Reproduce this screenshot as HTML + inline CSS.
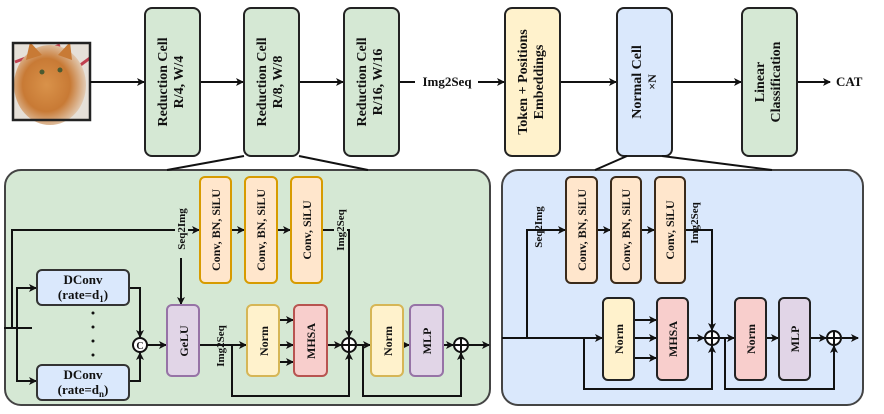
<!DOCTYPE html>
<html><head><meta charset="utf-8"><style>
html,body{margin:0;padding:0;background:#fff;}
svg{display:block;}
text{font-family:"Liberation Serif",serif;font-weight:bold;fill:#111;}
</style></head><body>
<svg width="884" height="414" viewBox="0 0 884 414" xmlns="http://www.w3.org/2000/svg">
<defs>
<marker id="a" markerWidth="8" markerHeight="8" refX="7" refY="4" orient="auto" markerUnits="userSpaceOnUse">
<path d="M0,0 L8,4 L0,8 L2,4 z" fill="#111"/></marker>
<radialGradient id="cat" cx="45%" cy="50%" r="60%">
<stop offset="0" stop-color="#d9924a"/><stop offset="0.55" stop-color="#c87a35"/><stop offset="1" stop-color="#e8ddd0"/></radialGradient>
</defs>
<g stroke="#111" stroke-width="2" fill="none">
<!-- top row -->
<rect x="13" y="43" width="77" height="77" fill="#e6e0d8" stroke="none"/>
<line x1="15" y1="62" x2="60" y2="45" stroke="#c04050" stroke-width="3"/>
<line x1="60" y1="80" x2="90" y2="58" stroke="#c04050" stroke-width="3"/>
<ellipse cx="50" cy="85" rx="36" ry="40" fill="url(#cat)" stroke="none"/>
<path d="M26,60 L30,42 L42,55 Z M58,55 L70,42 L72,60 Z" fill="#c87a35" stroke="none"/>
<circle cx="42" cy="72" r="2.5" fill="#4a5a30" stroke="none"/><circle cx="60" cy="70" r="2.5" fill="#4a5a30" stroke="none"/>
<rect x="13" y="43" width="77" height="77" stroke="#222" stroke-width="2.5"/>
<line x1="90" y1="82" x2="144" y2="82" marker-end="url(#a)"/>
<line x1="200" y1="82" x2="243" y2="82" marker-end="url(#a)"/>
<line x1="299" y1="82" x2="343" y2="82" marker-end="url(#a)"/>
<line x1="399" y1="82" x2="415" y2="82"/>
<line x1="478" y1="82" x2="504" y2="82" marker-end="url(#a)"/>
<line x1="560" y1="82" x2="616" y2="82" marker-end="url(#a)"/>
<line x1="672" y1="82" x2="741" y2="82" marker-end="url(#a)"/>
<line x1="797" y1="82" x2="830" y2="82" marker-end="url(#a)"/>
<rect x="145" y="8" width="55" height="148" rx="7" fill="#d5e8d4" stroke="#222"/>
<rect x="244" y="8" width="55" height="148" rx="7" fill="#d5e8d4" stroke="#222"/>
<rect x="344" y="8" width="55" height="148" rx="7" fill="#d5e8d4" stroke="#222"/>
<rect x="505" y="8" width="55" height="148" rx="7" fill="#fff2cc" stroke="#222"/>
<rect x="617" y="8" width="55" height="148" rx="7" fill="#dae8fc" stroke="#222"/>
<rect x="742" y="8" width="55" height="148" rx="7" fill="#d5e8d4" stroke="#222"/>
<!-- panels -->
<rect x="5" y="170" width="485" height="235" rx="16" fill="#d5e8d4" stroke="#444"/>
<rect x="502" y="170" width="361" height="235" rx="16" fill="#dae8fc" stroke="#444"/>
<line x1="244" y1="156" x2="167" y2="170"/><line x1="299" y1="156" x2="368" y2="170"/>
<line x1="627" y1="156" x2="595" y2="170"/><line x1="662" y1="156" x2="772" y2="170"/>

<!-- LEFT panel connectors -->
<polyline points="12,328 12,230 199,230" marker-end="url(#a)"/>
<line x1="231" y1="230" x2="244" y2="230" marker-end="url(#a)"/>
<line x1="277" y1="230" x2="290" y2="230" marker-end="url(#a)"/>
<polyline points="322,230 349,230 349,337" marker-end="url(#a)"/>
<line x1="4" y1="328" x2="32" y2="328"/>
<polyline points="17,328 17,288 36,288" marker-end="url(#a)"/>
<polyline points="17,328 17,381 36,381" marker-end="url(#a)"/>
<polyline points="129,288 140,288 140,337" marker-end="url(#a)"/>
<polyline points="129,381 140,381 140,353" marker-end="url(#a)"/>
<line x1="147" y1="345" x2="166" y2="345" marker-end="url(#a)"/>
<line x1="181" y1="258" x2="181" y2="304" marker-end="url(#a)"/>
<line x1="199" y1="345" x2="246" y2="345" marker-end="url(#a)"/>
<polyline points="232,345 232,396 349,396 349,353" marker-end="url(#a)"/>
<line x1="279" y1="320" x2="293" y2="320" marker-end="url(#a)"/>
<line x1="279" y1="345" x2="293" y2="345" marker-end="url(#a)"/>
<line x1="279" y1="362" x2="293" y2="362" marker-end="url(#a)"/>
<line x1="327" y1="345" x2="341" y2="345" marker-end="url(#a)"/>
<line x1="357" y1="345" x2="370" y2="345" marker-end="url(#a)"/>
<polyline points="363,345 363,396 461,396 461,353" marker-end="url(#a)"/>
<line x1="403" y1="345" x2="409" y2="345" marker-end="url(#a)"/>
<line x1="443" y1="345" x2="453" y2="345" marker-end="url(#a)"/>
<line x1="469" y1="345" x2="489" y2="345" marker-end="url(#a)"/>
<!-- left boxes -->
<rect x="200" y="177" width="31" height="106" rx="5" fill="#ffe6cc" stroke="#d79b00"/>
<rect x="245" y="177" width="32" height="106" rx="5" fill="#ffe6cc" stroke="#d79b00"/>
<rect x="291" y="177" width="31" height="106" rx="5" fill="#ffe6cc" stroke="#d79b00"/>
<rect x="37" y="270" width="92" height="35" rx="5" fill="#dae8fc" stroke="#333"/>
<rect x="37" y="365" width="92" height="35" rx="5" fill="#dae8fc" stroke="#333"/>
<rect x="167" y="305" width="32" height="71" rx="5" fill="#e1d5e7" stroke="#9673a6"/>
<rect x="247" y="305" width="32" height="71" rx="5" fill="#fff2cc" stroke="#d6b656"/>
<rect x="294" y="305" width="33" height="71" rx="5" fill="#f8cecc" stroke="#b85450"/>
<rect x="371" y="305" width="32" height="71" rx="5" fill="#fff2cc" stroke="#d6b656"/>
<rect x="410" y="305" width="33" height="71" rx="5" fill="#e1d5e7" stroke="#9673a6"/>
<circle cx="140" cy="345" r="7" fill="#fff"/>
<circle cx="349" cy="345" r="7" fill="#fff"/><path d="M342,345H356M349,338V352"/>
<circle cx="461" cy="345" r="7" fill="#fff"/><path d="M454,345H468M461,338V352"/>

<!-- RIGHT panel connectors -->
<line x1="502" y1="338" x2="602" y2="338" marker-end="url(#a)"/>
<polyline points="527,338 527,230 565,230" marker-end="url(#a)"/>
<line x1="597" y1="230" x2="610" y2="230" marker-end="url(#a)"/>
<line x1="641" y1="230" x2="654" y2="230" marker-end="url(#a)"/>
<polyline points="685,230 712,230 712,330" marker-end="url(#a)"/>
<polyline points="584,338 584,389 712,389 712,346" marker-end="url(#a)"/>
<line x1="634" y1="320" x2="656" y2="320" marker-end="url(#a)"/>
<line x1="634" y1="338" x2="656" y2="338" marker-end="url(#a)"/>
<line x1="634" y1="358" x2="656" y2="358" marker-end="url(#a)"/>
<line x1="688" y1="338" x2="704" y2="338" marker-end="url(#a)"/>
<line x1="720" y1="338" x2="734" y2="338" marker-end="url(#a)"/>
<polyline points="725,338 725,389 834,389 834,346" marker-end="url(#a)"/>
<line x1="766" y1="338" x2="778" y2="338" marker-end="url(#a)"/>
<line x1="810" y1="338" x2="826" y2="338" marker-end="url(#a)"/>
<line x1="842" y1="338" x2="858" y2="338" marker-end="url(#a)"/>
<rect x="566" y="177" width="31" height="106" rx="5" fill="#ffe6cc" stroke="#3a2a1a"/>
<rect x="611" y="177" width="30" height="106" rx="5" fill="#ffe6cc" stroke="#3a2a1a"/>
<rect x="655" y="177" width="30" height="106" rx="5" fill="#ffe6cc" stroke="#3a2a1a"/>
<rect x="603" y="298" width="31" height="82" rx="5" fill="#fff2cc" stroke="#222"/>
<rect x="657" y="298" width="31" height="82" rx="5" fill="#f8cecc" stroke="#222"/>
<rect x="735" y="298" width="31" height="82" rx="5" fill="#f8cecc" stroke="#222"/>
<rect x="779" y="298" width="31" height="82" rx="5" fill="#e1d5e7" stroke="#222"/>
<circle cx="712" cy="338" r="7" fill="#fff"/><path d="M705,338H719M712,331V345"/>
<circle cx="834" cy="338" r="7" fill="#fff"/><path d="M827,338H841M834,331V345"/>
</g>

<!-- text -->
<g font-size="14" text-anchor="middle">
<text transform="translate(167,82) rotate(-90)">Reduction Cell</text>
<text transform="translate(183,82) rotate(-90)">R/4, W/4</text>
<text transform="translate(266,82) rotate(-90)">Reduction Cell</text>
<text transform="translate(282,82) rotate(-90)">R/8, W/8</text>
<text transform="translate(366,82) rotate(-90)">Reduction Cell</text>
<text transform="translate(382,82) rotate(-90)">R/16, W/16</text>
<text transform="translate(527,82) rotate(-90)">Token + Positions</text>
<text transform="translate(543,82) rotate(-90)">Embeddings</text>
<text transform="translate(641,82) rotate(-90)">Normal Cell</text>
<text transform="translate(656,82) rotate(-90)" font-size="12">×N</text>
<text transform="translate(764,82) rotate(-90)">Linear</text>
<text transform="translate(780,82) rotate(-90)">Classification</text>
</g>
<text x="447" y="86" font-size="13" text-anchor="middle" font-weight="bold">Img2Seq</text>
<text x="836" y="86" font-size="13">CAT</text>

<g font-size="12" text-anchor="middle">
<text transform="translate(220,230) rotate(-90)">Conv, BN, SiLU</text>
<text transform="translate(265,230) rotate(-90)">Conv, BN, SiLU</text>
<text transform="translate(311,230) rotate(-90)">Conv, SiLU</text>
<text transform="translate(586,230) rotate(-90)">Conv, BN, SiLU</text>
<text transform="translate(630,230) rotate(-90)">Conv, BN, SiLU</text>
<text transform="translate(674,230) rotate(-90)">Conv, SiLU</text>
<text transform="translate(188,341) rotate(-90)">GeLU</text>
<text transform="translate(268,341) rotate(-90)">Norm</text>
<text transform="translate(315,341) rotate(-90)">MHSA</text>
<text transform="translate(392,341) rotate(-90)">Norm</text>
<text transform="translate(431,341) rotate(-90)">MLP</text>
<text transform="translate(623,339) rotate(-90)">Norm</text>
<text transform="translate(677,339) rotate(-90)">MHSA</text>
<text transform="translate(755,339) rotate(-90)">Norm</text>
<text transform="translate(799,339) rotate(-90)">MLP</text>
</g>
<g font-size="11" text-anchor="middle">
<rect x="175" y="200" width="13" height="58" fill="#d5e8d4"/>
<text transform="translate(185,229) rotate(-90)">Seq2Img</text>
<rect x="334" y="200" width="13" height="60" fill="#d5e8d4"/>
<text transform="translate(344,230) rotate(-90)">Img2Seq</text>
<text transform="translate(224,346) rotate(-90)">Img2Seq</text>
<text transform="translate(542,227) rotate(-90)">Seq2Img</text>
<text transform="translate(698,223) rotate(-90)">Img2Seq</text>
</g>
<g font-size="13" text-anchor="middle">
<text x="83" y="284">DConv</text><text x="83" y="299">(rate=d<tspan font-size="9" dy="3">1</tspan><tspan dy="-3">)</tspan></text>
<text x="83" y="379">DConv</text><text x="83" y="394">(rate=d<tspan font-size="9" dy="3">n</tspan><tspan dy="-3">)</tspan></text>
<text x="140" y="349" font-size="10">C</text>
</g>
<g fill="#111"><circle cx="93" cy="313" r="1.5"/><circle cx="93" cy="327" r="1.5"/><circle cx="93" cy="341" r="1.5"/><circle cx="93" cy="355" r="1.5"/></g>
</svg>
</body></html>
